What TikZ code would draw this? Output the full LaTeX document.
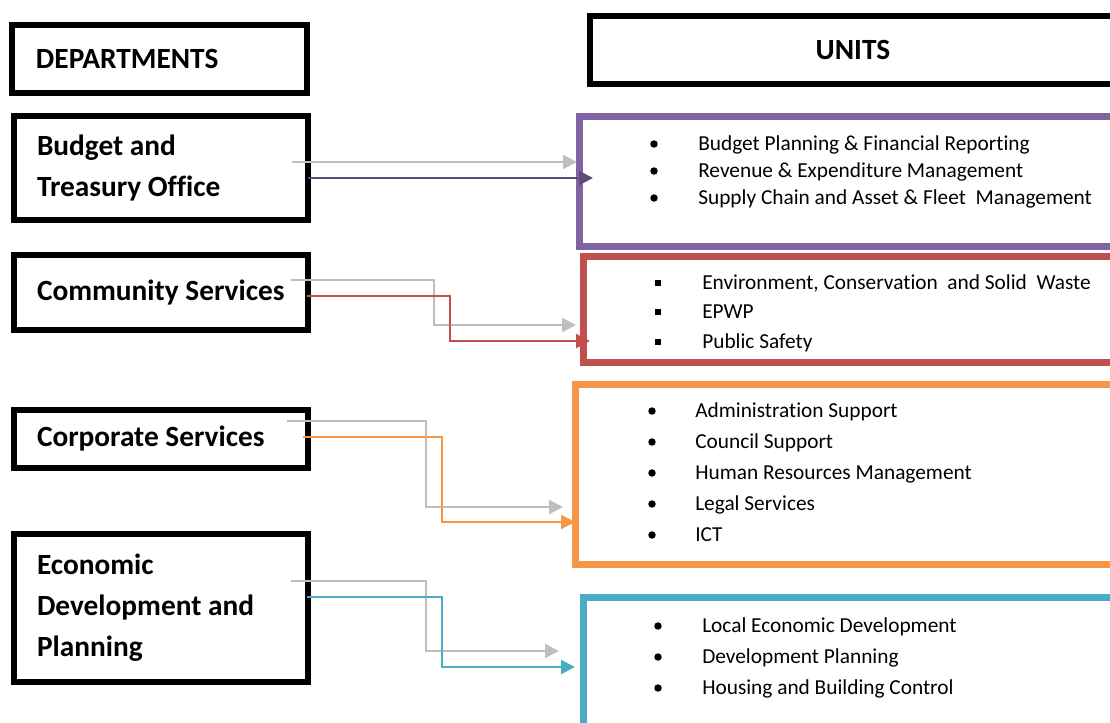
\documentclass[tikz,border=0pt]{standalone}
\usepackage{fontspec}
\setmainfont{Carlito}[Ligatures=NoCommon]
\usetikzlibrary{arrows.meta}

\definecolor{btocolor}{HTML}{8064A2}
\definecolor{btoarrow}{HTML}{604A7B}
\definecolor{comcolor}{HTML}{C0504D}
\definecolor{corpcolor}{HTML}{F79646}
\definecolor{edpcolor}{HTML}{4BACC6}
\definecolor{linkgray}{HTML}{BFBFBF}

\begin{document}
\begin{tikzpicture}[x=0.75pt, y=-0.75pt,
    dept/.style = {draw, line width=4.9pt, anchor=north west, outer sep=0pt,
        inner xsep=17.25pt, inner ysep=0pt, text width=186pt, minimum width=220.5pt,
        align=flush left, font=\bfseries\fontsize{22}{30.75}\selectfont},
    unit/.style = {draw, line width=5.25pt, anchor=north west, outer sep=0pt, inner sep=0pt},
    item/.style = {anchor=base west, inner sep=0pt, font=\fontsize{16}{19}\selectfont},
    link/.style = {line width=1.8pt, -{Triangle[length=10.5pt, width=10.5pt]}},
    graylink/.style = {link, color=linkgray}]
                \useasboundingbox (0,0) rectangle (1110,722);

                % headers
                \node[dept, inner xsep=18pt, text width=185.25pt, minimum width=221.25pt, minimum height=51pt] at (12,25) (depts) {DEPARTMENTS};
                \node[dept, minimum width=394.5pt, text width=360pt, minimum height=51pt, align=center] at (590,16) (units) {UNITS};

                % departments
                \node[dept, minimum height=78pt] at (14,116) (bto) {Budget and\\Treasury Office};
                \node[dept, minimum height=56.25pt] at (14,255) (com) {\mbox{Community Services}};
                \node[dept, minimum height=43.5pt] at (14,410) (corp) {Corporate Services};
                \node[dept, minimum height=111pt] at (14,534) (edp) {Economic\\Development and\\Planning};

                % unit boxes
                \node[unit, draw=btocolor, minimum width=405.75pt, minimum height=97.5pt] at (579,116) (btounits) {};
                \node[unit, draw=comcolor, minimum width=402.75pt, minimum height=79.5pt] at (583,256) (comunits) {};
                \node[unit, draw=corpcolor, minimum width=408.75pt, minimum height=135pt] at (575,384) (corpunits) {};
                \node[unit, draw=edpcolor, minimum width=402.75pt, minimum height=107.25pt] at (583,597) (edpunits) {};

                % unit lists
                \foreach \y/\txt in {144/Budget Planning \& Financial Reporting,
                    171/Revenue \& Expenditure Management,
                    198/Supply Chain and Asset \& Fleet\ \ Management}{
                    \fill (654,\y) circle[radius=2.8pt];
                    \node[item] (btoitem\y) at (698,\y+6) {\txt};
                }
                \foreach \y/\txt in {{283/Environment, Conservation\ \ and Solid\ \ Waste},
                    312/EPWP, 342/Public Safety}{
                    \fill (655,\y-3) rectangle ++(6,6);
                    \node[item] (comitem\y) at (702,\y+6) {\txt};
                }
                \foreach \y/\txt in {411/Administration Support, 442/Council Support,
                    473/Human Resources Management, 504/Legal Services, 535/ICT}{
                    \fill (652,\y) circle[radius=2.8pt];
                    \node[item] (corpitem\y) at (695,\y+6) {\txt};
                }
                \foreach \y/\txt in {626/Local Economic Development, 657/Development Planning,
                    688/Housing and Building Control}{
                    \fill (658,\y) circle[radius=2.8pt];
                    \node[item] (edpitem\y) at (702,\y+6) {\txt};
                }

                % links
                \draw[graylink] ([shift={(-16,-6)}]bto.east) -- ([shift={(-2,-19)}]btounits.west);
                \draw[link, btoarrow] ([shift={(0,10)}]bto.east) -- ([shift={(14,-3)}]btounits.west);

                \draw[graylink] ([shift={(-17,-12.5)}]com.east) -- ++(143,0) |- ([shift={(-7,16)}]comunits.west);
                \draw[link, comcolor] ([shift={(-1,3.5)}]com.east) -- ++(143,0) |- ([shift={(7,32)}]comunits.west);

                \draw[graylink] ([shift={(-21,-18)}]corp.east) -- ++(139,0) |- ([shift={(-12,33)}]corpunits.west);
                \draw[link, corpcolor] ([shift={(-5,-2)}]corp.east) -- ++(139,0) |- ([shift={(0,48)}]corpunits.west);

                \draw[graylink] ([shift={(-17,-27)}]edp.east) -- ++(135,0) |- ([shift={(-24,-17.5)}]edpunits.west);
                \draw[link, edpcolor] ([shift={(-1,-11)}]edp.east) -- ++(135,0) |- ([shift={(-8,-1.5)}]edpunits.west);
            \end{tikzpicture}
\end{document}
